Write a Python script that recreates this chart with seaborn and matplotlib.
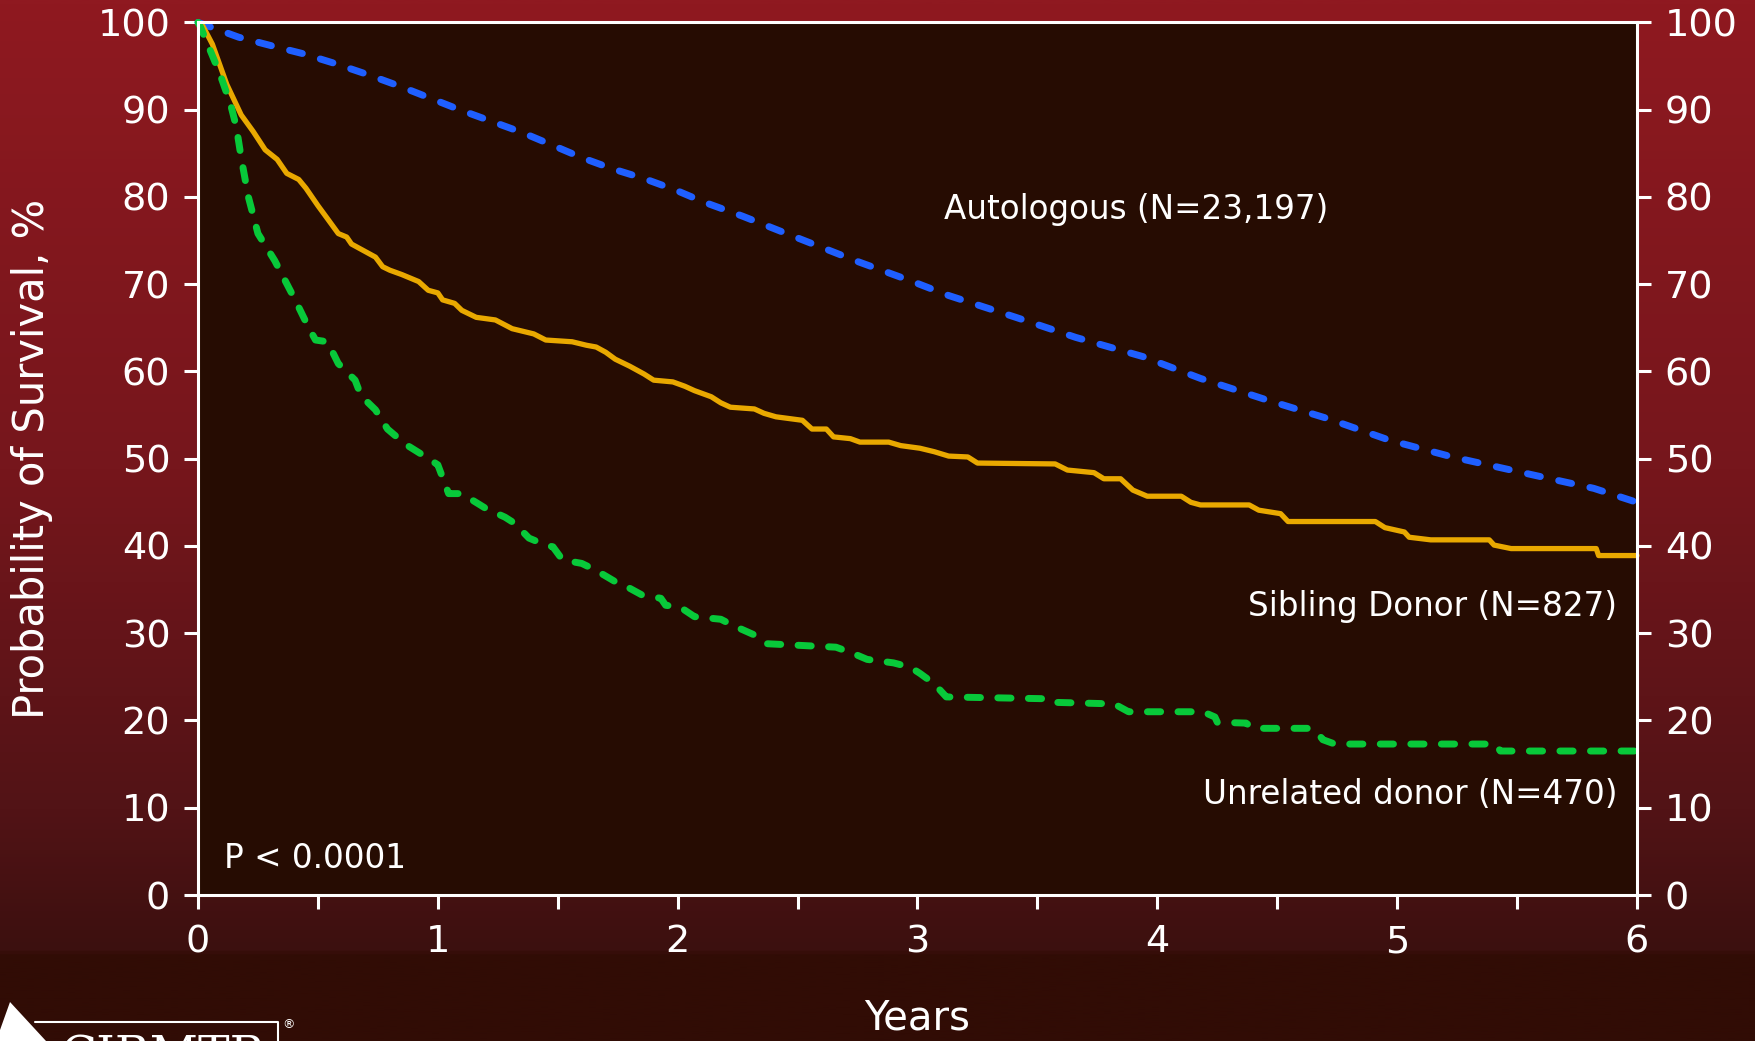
import numpy as np
import pandas as pd
import matplotlib
matplotlib.use('Agg')
import matplotlib.pyplot as plt
from matplotlib.colors import LinearSegmentedColormap
from matplotlib.patches import Polygon
from matplotlib.lines import Line2D
import seaborn as sns

# survival curves (years after transplant, % surviving)
auto_years = [0, 0.17, 0.31, 0.44, 0.57, 0.71, 0.84, 0.97, 1.09, 1.22, 1.35, 1.48, 1.60, 1.73,
              1.86, 1.99, 2.11, 2.27, 2.5, 2.75, 2.97, 3.13, 3.41, 3.66, 3.94, 4.18, 4.46, 4.71,
              4.97, 5.23, 5.54, 5.82, 6.0]
auto_surv = [100, 98.3, 97.3, 96.4, 95.3, 94.0, 92.7, 91.3, 90.0, 88.7, 87.4, 85.9, 84.5, 83.2,
             82.1, 80.8, 79.4, 77.8, 75.3, 72.6, 70.4, 68.7, 66.2, 63.9, 61.7, 59.2, 56.7, 54.6,
             52.1, 50.2, 48.3, 46.6, 45.0]

sib_years = [0, 0.02, 0.06, 0.12, 0.18, 0.23, 0.28, 0.33, 0.37, 0.42, 0.45, 0.50, 0.54, 0.585,
             0.62, 0.64, 0.70, 0.74, 0.77, 0.80, 0.85, 0.92, 0.96, 1.00, 1.02, 1.07, 1.10, 1.16,
             1.24, 1.31, 1.40, 1.45, 1.56, 1.62, 1.66, 1.70, 1.74, 1.80, 1.86, 1.90, 1.98, 2.03,
             2.07, 2.14, 2.18, 2.22, 2.32, 2.36, 2.41, 2.52, 2.56, 2.62, 2.65, 2.72, 2.76, 2.88,
             2.93, 3.01, 3.07, 3.13, 3.21, 3.25, 3.574, 3.625, 3.736, 3.777, 3.847, 3.898, 3.958,
             4.10, 4.14, 4.18, 4.383, 4.423, 4.514, 4.545, 4.909, 4.949, 5.03, 5.05, 5.14, 5.384,
             5.404, 5.475, 5.83, 5.84, 6.0]
sib_surv = [100, 99.6, 97.5, 92.9, 89.4, 87.5, 85.4, 84.3, 82.7, 82.0, 81.0, 79.0, 77.5, 75.8,
            75.4, 74.6, 73.7, 73.1, 72.0, 71.6, 71.1, 70.3, 69.3, 69.0, 68.2, 67.8, 67.0, 66.2,
            65.9, 64.9, 64.3, 63.6, 63.4, 63.0, 62.8, 62.2, 61.4, 60.6, 59.7, 59.0, 58.8, 58.3,
            57.8, 57.1, 56.4, 55.9, 55.7, 55.2, 54.8, 54.4, 53.4, 53.4, 52.5, 52.3, 51.9, 51.9,
            51.5, 51.2, 50.8, 50.3, 50.2, 49.5, 49.4, 48.7, 48.4, 47.7, 47.7, 46.4, 45.7,
            45.7, 45.0, 44.7, 44.7, 44.1, 43.7, 42.8, 42.8, 42.1, 41.6, 41.0, 40.7, 40.7,
            40.1, 39.7, 39.7, 38.9, 38.9]

unrel_years = [0, 0.01, 0.09, 0.135, 0.16, 0.18, 0.21, 0.25, 0.32, 0.405, 0.46, 0.49, 0.54, 0.585,
               0.655, 0.68, 0.74, 0.79, 0.82, 0.88, 0.95, 1.00, 1.03, 1.045, 1.10, 1.20, 1.28,
               1.32, 1.38, 1.45, 1.48, 1.52, 1.60, 1.66, 1.74, 1.79, 1.85, 1.93, 1.95, 2.01,
               2.07, 2.18, 2.23, 2.32, 2.37, 2.66, 2.73, 2.79, 2.90, 2.97, 3.01, 3.07, 3.12,
               3.52, 3.54, 3.82, 3.88, 4.19, 4.24, 4.25, 4.37, 4.40, 4.64, 4.67, 4.69, 4.74,
               5.41, 5.43, 6.0]
unrel_surv = [100, 99.5, 94.2, 90.7, 88.0, 84.5, 80.0, 75.8, 72.7, 68.2, 65.1, 63.6, 63.4, 60.9,
              59.0, 57.2, 55.6, 53.4, 52.7, 51.4, 50.2, 49.3, 47.1, 46.0, 46.0, 44.3, 43.3,
              42.6, 40.9, 40.1, 39.9, 38.4, 38.0, 37.2, 35.9, 35.3, 34.4, 34.0, 33.2, 33.0,
              31.9, 31.6, 30.9, 29.8, 28.8, 28.4, 27.7, 27.0, 26.6, 26.1, 25.4, 24.2, 22.7,
              22.5, 22.1, 21.9, 21.0, 21.0, 20.4, 19.8, 19.7, 19.1, 19.1, 18.5, 17.8, 17.3,
              17.3, 16.5, 16.5]

x_major = [0, 1, 2, 3, 4, 5, 6]
x_minor = [0.5, 1.5, 2.5, 3.5, 4.5, 5.5]
y_ticks = [0, 10, 20, 30, 40, 50, 60, 70, 80, 90, 100]

auto_label = 'Autologous (N=23,197)'
sib_label = 'Sibling Donor (N=827)'
unrel_label = 'Unrelated donor (N=470)'
p_label = 'P < 0.0001'

sns.set_theme(style='ticks')
plt.rcParams['font.family'] = ['DejaVu Sans']

W, H = 1756, 1041
fig = plt.figure(figsize=(W / 100, H / 100), dpi=100)

# slide background: red at the top fading to dark brown
bg = fig.add_axes([0, 0, 1, 1], zorder=-5)
slide = LinearSegmentedColormap.from_list('slide', [
    (0.0, '#8f1920'), (0.45, '#76161c'), (0.78, '#521316'),
    (0.915, '#3c100f'), (0.92, '#310c05'), (1.0, '#310c05')])
bg.imshow(np.linspace(0, 1, 600).reshape(-1, 1), aspect='auto', cmap=slide,
          extent=[0, 1, 0, 1], origin='upper')
bg.axis('off')

ax = fig.add_axes([198 / W, 1 - 895 / H, 1439 / W, 872.6 / H], zorder=1)
ax.set_facecolor('#260c02')

auto_df = pd.DataFrame({'years': auto_years, 'surv': auto_surv})
sib_df = pd.DataFrame({'years': sib_years, 'surv': sib_surv})
unrel_df = pd.DataFrame({'years': unrel_years, 'surv': unrel_surv})

sns.lineplot(data=auto_df, x='years', y='surv', ax=ax, color='#1f5fff', linewidth=5,
             estimator=None, sort=False, clip_on=False)
ax.lines[-1].set_dashes((1.9, 2.7))
ax.lines[-1].set_dash_capstyle('round')

sns.lineplot(data=sib_df, x='years', y='surv', ax=ax, color='#e9a900', linewidth=3.8,
             estimator=None, sort=False, clip_on=False)

sns.lineplot(data=unrel_df, x='years', y='surv', ax=ax, color='#08c93a', linewidth=5,
             estimator=None, sort=False, clip_on=False)
ax.lines[-1].set_dashes((1.9, 2.5))
ax.lines[-1].set_dash_capstyle('round')

ax.set_xlim(0, 6)
ax.set_ylim(0, 100)
ax.set_xticks(x_major)
ax.set_xticks(x_minor, minor=True)
ax.set_yticks(y_ticks)

for s in ax.spines.values():
    s.set_visible(True)
    s.set_color('white')
    s.set_linewidth(2.2)

ax.tick_params(axis='both', which='both', colors='white', width=2.2, length=10,
               direction='out', labelsize=27.5)
ax.tick_params(axis='y', left=True, right=True, labelleft=True, labelright=True, pad=10)
ax.tick_params(axis='x', which='both', pad=11, top=False)
ax.grid(False)

ax.set_xlabel('Years', color='white', fontsize=29)
ax.xaxis.set_label_coords(0.5, -0.119)
ax.set_ylabel('Probability of Survival, %', color='white', fontsize=30)
ax.yaxis.set_label_coords(-0.101, 0.5)

txt = dict(color='white', fontsize=23.5, va='center')
ax.text(3.11, 78.6, auto_label, ha='left', **txt)
ax.text(5.917, 33.1, sib_label, ha='right', **txt)
ax.text(5.917, 11.5, unrel_label, ha='right', **txt)
ax.text(0.108, 4.2, p_label, ha='left', **txt)

# CIBMTR logo, mostly cut off by the bottom edge of the slide
def fp(x, y):
    return (x / W, 1 - y / H)

fig.patches.append(Polygon([fp(0, 1030), fp(10, 1002), fp(46, 1041), fp(0, 1041)],
                           closed=True, facecolor='white', edgecolor='none',
                           transform=fig.transFigure, figure=fig))
fig.lines.append(Line2D([35 / W, 278 / W, 278 / W], [1 - 1022 / H, 1 - 1022 / H, 0],
                        color='white', linewidth=1.5, transform=fig.transFigure, figure=fig))
fig.text(60 / W, 1 - 1070 / H, 'CIBMTR', color='white', fontsize=34, family='DejaVu Serif',
         ha='left', va='baseline')
fig.text(289 / W, 1 - 1025 / H, '\u00ae', color='white', fontsize=9, ha='center', va='center')

fig.savefig('out.png', dpi=100)
